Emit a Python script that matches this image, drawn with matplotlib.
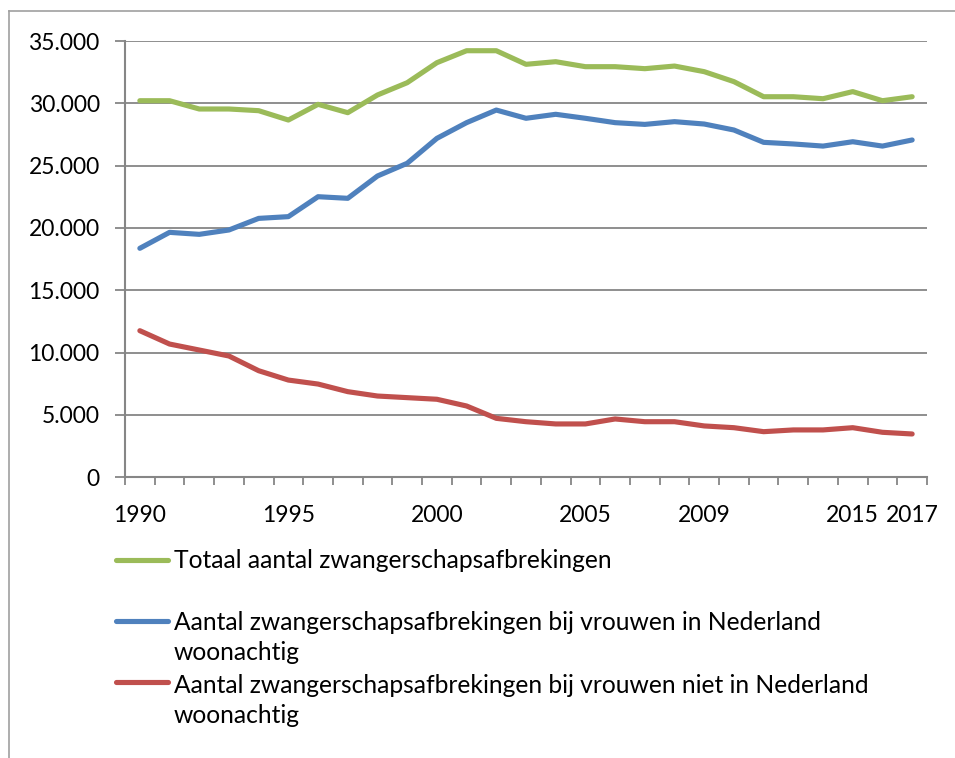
import matplotlib
matplotlib.use("Agg")
import matplotlib.pyplot as plt
from matplotlib.lines import Line2D
from matplotlib.ticker import FixedLocator, FuncFormatter

# ---- data ----
years = [1990, 1991, 1992, 1993, 1994, 1995, 1996, 1997, 1998, 1999,
         2000, 2001, 2002, 2003, 2004, 2005, 2006, 2007, 2008, 2009,
         2010, 2011, 2012, 2013, 2015, 2016, 2017]
shown_years = [1990, 1995, 2000, 2005, 2009, 2015, 2017]

totaal = [30210, 30210, 29545, 29545, 29410, 28660, 29920, 29250, 30670, 31655,
          33260, 34220, 34220, 33130, 33340, 32940, 32940, 32780, 32990, 32540,
          31740, 30530, 30530, 30370, 30940, 30210, 30530]
in_nl = [18370, 19650, 19490, 19840, 20770, 20910, 22510, 22380, 24170, 25190,
         27190, 28450, 29460, 28800, 29120, 28800, 28450, 28310, 28530, 28340,
         27860, 26870, 26740, 26570, 26920, 26570, 27060]
niet_nl = [11760, 10690, 10210, 9730, 8550, 7800, 7480, 6870, 6520, 6390,
           6260, 5720, 4730, 4460, 4280, 4280, 4680, 4460, 4460, 4120,
           3980, 3660, 3800, 3800, 3980, 3610, 3475]

series_labels = [
    "Totaal aantal zwangerschapsafbrekingen",
    "Aantal zwangerschapsafbrekingen bij vrouwen in Nederland\nwoonachtig",
    "Aantal zwangerschapsafbrekingen bij vrouwen niet in Nederland\nwoonachtig",
]
series_values = [totaal, in_nl, niet_nl]
colors = ["#9BBB59", "#4F81BD", "#C0504D"]
y_ticks = [0, 5000, 10000, 15000, 20000, 25000, 30000, 35000]

# ---- figure ----
W, H = 955, 758
fig = plt.figure(figsize=(W / 100, H / 100), dpi=100)
plt.rcParams['font.family'] = ['Lato', 'DejaVu Sans']
FS = 16.5
FS_LEG = 17.7
GRAY = "#868686"

def fx(px):
    return px / W

def fy(py):
    return 1 - py / H

ax = fig.add_axes([fx(125), fy(477.3), fx(927) - fx(125), fy(41) - fy(477.3)])

x = list(range(len(years)))
for vals, col in zip(series_values, colors):
    ax.plot(x, vals, color=col, lw=3.7, solid_capstyle='round', solid_joinstyle='round', zorder=3)

ax.set_xlim(-0.5, len(years) - 0.5)
ax.set_ylim(0, 35000)

ax.set_yticks(y_ticks)
ax.yaxis.set_major_formatter(FuncFormatter(lambda v, p: f"{int(v):,}".replace(",", ".")))
ax.grid(axis='y', color=GRAY, lw=1.3, zorder=1)
ax.tick_params(axis='y', length=7.2, width=1.3, color=GRAY, pad=11, labelsize=FS, direction='out')

shown_idx = [years.index(yv) for yv in shown_years]
ax.set_xticks(shown_idx)
ax.set_xticklabels([str(yv) for yv in shown_years])
ax.xaxis.set_minor_locator(FixedLocator([i - 0.5 for i in range(len(years) + 1)]))
ax.tick_params(axis='x', which='major', length=0, pad=20, labelsize=FS)
ax.tick_params(axis='x', which='minor', length=6, width=1.3, color=GRAY, direction='out')

for s in ['top', 'right']:
    ax.spines[s].set_visible(False)
for s in ['left', 'bottom']:
    ax.spines[s].set_color(GRAY)
    ax.spines[s].set_linewidth(1.5)

# ---- legend (manual, Excel style) ----
handle_y = [559.5, 621, 682]
base_y = [568, 630, 693]
line_gap = 30
for lab, col, hy, by in zip(series_labels, colors, handle_y, base_y):
    fig.add_artist(Line2D([fx(116), fx(168)], [fy(hy), fy(hy)], color=col, lw=3.7,
                          solid_capstyle='round', transform=fig.transFigure))
    for k, part in enumerate(lab.split("\n")):
        fig.text(fx(174), fy(by + k * line_gap), part, fontsize=FS_LEG, va='baseline', ha='left')

# ---- outer frame ----
fig.add_artist(Line2D([fx(9), 1.0], [fy(11), fy(11)], color="#A0A0A0", lw=1.2, transform=fig.transFigure))
fig.add_artist(Line2D([fx(9), fx(9)], [fy(11), 0.0], color="#A0A0A0", lw=1.2, transform=fig.transFigure))

fig.savefig("out.png", dpi=100)
